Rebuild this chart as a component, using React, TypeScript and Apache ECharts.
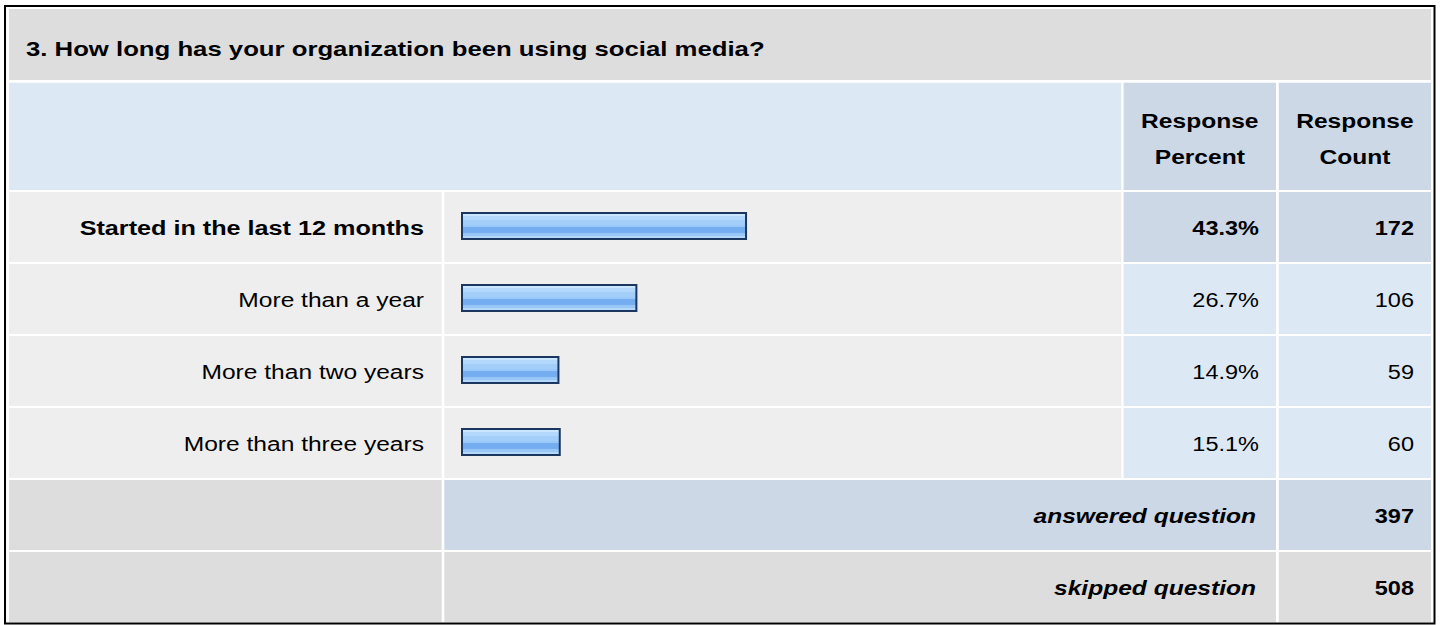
import React, { useEffect, useRef } from "react";
import * as echarts from "echarts";

const titleText = "3. How long has your organization been using social media?";
const categories = [
  "Started in the last 12 months",
  "More than a year",
  "More than two years",
  "More than three years",
];
const percents = [43.3, 26.7, 14.9, 15.1];
const counts = [172, 106, 59, 60];
const headerPercent = ["Response", "Percent"];
const headerCount = ["Response", "Count"];
const summaryLabels = ["answered question", "skipped question"];
const summaryValues = [397, 508];

const FONT = "'Liberation Sans', Arial, Helvetica, sans-serif";

export default function App() {
  const ref = useRef<HTMLDivElement>(null);
  useEffect(() => {
    if (!ref.current) return;
    const chart = echarts.init(ref.current, undefined, { renderer: "svg" });

    const L0 = 9, L1 = 441.7; // label col
    const B0 = 444.3, B1 = 1121.3; // bar col
    const P0 = 1123.6, P1 = 1276; // percent col
    const C0 = 1278.8, C1 = 1431; // count col
    const rowTop = (i: number) => 192 + 72 * i;
    const RH = 70;
    const GRAY = "#dddddd", LIGHT = "#eeeeee", BLUE = "#dde8f5", DBLUE = "#ccd8e6";
    const SX = 1.17;
    const NX = 1.12;

    const g: any[] = [];
    const rect = (x0: number, y0: number, x1: number, y1: number, fill: string) =>
      g.push({ type: "rect", z: 0, shape: { x: x0, y: y0, width: x1 - x0, height: y1 - y0 }, style: { fill } });
    const text = (t: string, x: number, y: number, align: string, weight: string, style: string = "normal", sx: number = SX) =>
      g.push({
        type: "text", z: 10, x, y, scaleX: sx,
        style: { text: t, fill: "#000", font: `${style} ${weight} 21px ${FONT}`, align, verticalAlign: "middle" },
      });

    // outer border
    g.push({ type: "rect", z: 0, shape: { x: 5, y: 6, width: 1429.5, height: 617.5 }, style: { fill: "#fff", stroke: "#000", lineWidth: 2 } });
    // title
    rect(L0, 9, C1, 80, GRAY);
    text(titleText, 26, 48.5, "left", "bold", "normal", 1.225);
    // header
    rect(L0, 82.7, B1, 190, BLUE);
    rect(P0, 82.7, P1, 190, DBLUE);
    rect(C0, 82.7, C1, 190, DBLUE);
    const pc = (P0 + P1) / 2, cc = (C0 + C1) / 2;
    text(headerPercent[0], pc, 121, "center", "bold");
    text(headerPercent[1], pc, 157, "center", "bold");
    text(headerCount[0], cc, 121, "center", "bold");
    text(headerCount[1], cc, 157, "center", "bold");
    // data rows
    categories.forEach((cat, i) => {
      const y0 = rowTop(i), y1 = y0 + RH;
      const sel = i === 0;
      rect(L0, y0, L1, y1, LIGHT);
      rect(B0, y0, B1, y1, LIGHT);
      rect(P0, y0, P1, y1, sel ? DBLUE : BLUE);
      rect(C0, y0, C1, y1, sel ? DBLUE : BLUE);
      const w = sel ? "bold" : "normal";
      text(cat, 424, y0 + 36, "right", w, "normal", sel ? 1.2 : SX);
      text(percents[i].toFixed(1) + "%", 1259, y0 + 36, "right", w, "normal", NX);
      text(String(counts[i]), 1414, y0 + 36, "right", w, "normal", NX);
    });
    // summary rows
    summaryLabels.forEach((lab, k) => {
      const y0 = rowTop(categories.length + k), y1 = y0 + RH;
      const fill = k === 0 ? DBLUE : GRAY;
      rect(L0, y0, L1, y1, GRAY);
      rect(B0, y0, P1, y1, fill);
      rect(C0, y0, C1, y1, fill);
      text(lab, 1256, y0 + 35.5, "right", "bold", "italic");
      text(String(summaryValues[k]), 1414, y0 + 36, "right", "bold", "normal", NX);
    });

    const barFill = new echarts.graphic.LinearGradient(0, 0, 0, 1, [
      { offset: 0, color: "#cae5fe" },
      { offset: 0.1, color: "#cae5fe" },
      { offset: 0.1, color: "#b3d8fc" },
      { offset: 0.27, color: "#b3d8fc" },
      { offset: 0.27, color: "#a3cefa" },
      { offset: 0.45, color: "#a3cefa" },
      { offset: 0.45, color: "#9ac8f9" },
      { offset: 0.55, color: "#9ac8f9" },
      { offset: 0.55, color: "#74aef0" },
      { offset: 0.76, color: "#74aef0" },
      { offset: 0.76, color: "#98c6f7" },
      { offset: 0.88, color: "#98c6f7" },
      { offset: 0.88, color: "#b3d8fb" },
      { offset: 1, color: "#b3d8fb" },
    ]);

    chart.setOption({
      animation: false,
      backgroundColor: "#ffffff",
      graphic: { elements: g },
      grid: { left: 461, right: 1440 - 1121.6, top: 190, height: 288, containLabel: false },
      xAxis: { type: "value", min: 0, max: 100, show: false },
      yAxis: {
        type: "category",
        data: categories,
        inverse: true,
        axisLine: { show: false },
        axisTick: { show: false },
        splitLine: { show: false },
        axisLabel: { show: false },
      },
      series: [
        {
          type: "bar",
          data: percents,
          barWidth: 28,
          z: 5,
          itemStyle: { color: barFill, borderColor: "#1b365f", borderWidth: 2 },
          silent: true,
        },
      ],
    });
    return () => chart.dispose();
  }, []);
  return <div ref={ref} style={{ position: "absolute", left: 0, top: 0, width: 1440, height: 625 }} />;
}
